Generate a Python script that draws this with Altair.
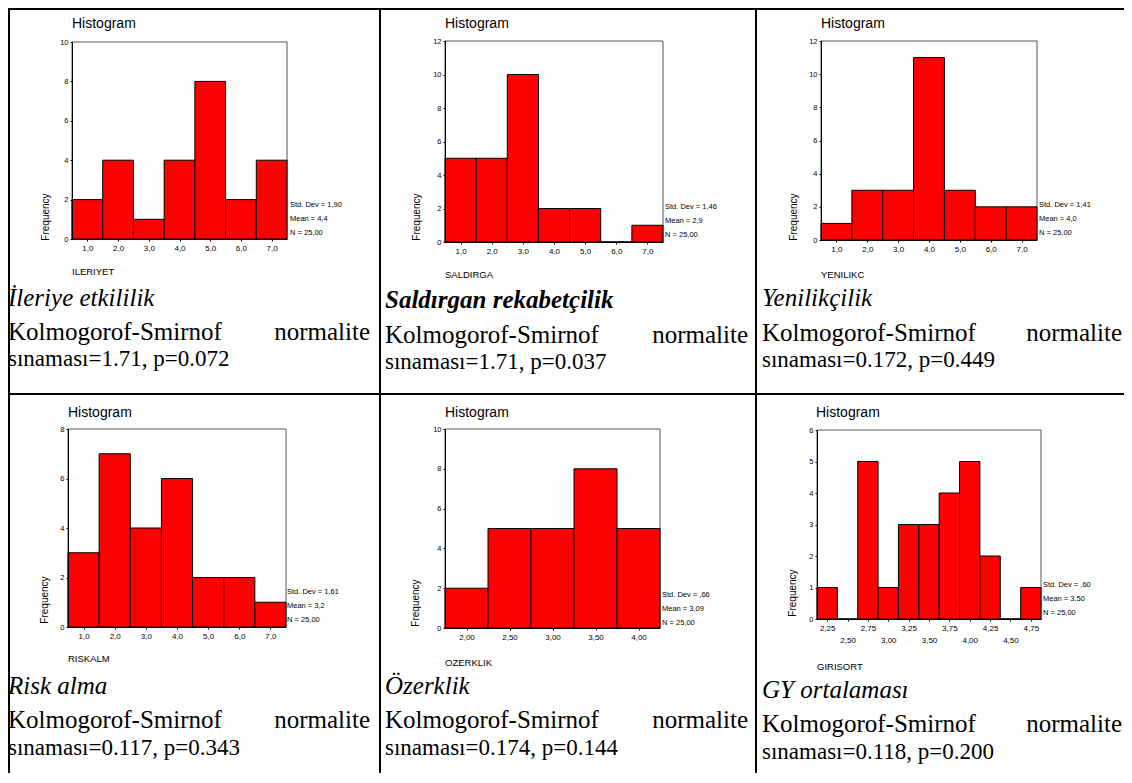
import altair as alt
import pandas as pd

# ---------------- data ----------------
bins_1to7 = [1.0, 2.0, 3.0, 4.0, 5.0, 6.0, 7.0]
freq_ileriyet = [2, 4, 1, 4, 8, 2, 4]
freq_saldirga = [5, 5, 10, 2, 2, 0, 1]
freq_yenilikc = [1, 3, 3, 11, 3, 2, 2]
freq_riskalm = [3, 7, 4, 6, 2, 2, 1]
bins_ozerklik = [2.00, 2.50, 3.00, 3.50, 4.00]
freq_ozerklik = [2, 5, 5, 8, 5]
bins_girisort = [2.25, 2.50, 2.75, 3.00, 3.25, 3.50, 3.75, 4.00, 4.25, 4.50, 4.75]
freq_girisort = [1, 0, 5, 1, 3, 3, 4, 5, 2, 0, 1]

variable_names = ["ILERIYET", "SALDIRGA", "YENILIKC", "RISKALM", "OZERKLIK", "GIRISORT"]
std_devs = ["1,90", "1,46", "1,41", "1,61", ",66", ",60"]
means = ["4,4", "2,9", "4,0", "3,2", "3,09", "3,50"]
n_values = ["25,00", "25,00", "25,00", "25,00", "25,00", "25,00"]
y_max = [10, 12, 12, 8, 10, 6]
y_step = [2, 2, 2, 2, 2, 1]

captions = ["İleriye etkililik", "Saldırgan rekabetçilik", "Yenilikçilik",
            "Risk alma", "Özerklik", "GY ortalaması"]
ks_stats = ["1.71", "1.71", "0.172", "0.117", "0.174", "0.118"]
ks_p = ["0.072", "0.037", "0.449", "0.343", "0.144", "0.200"]

# ---------------- layout (page pixels) ----------------
W, H = 1116, 765
OFF = 8
SANS = "Liberation Sans"
SERIF = "Liberation Serif"

panels = [
    dict(c=bins_1to7, f=freq_ileriyet, bw=1.0, fmt=".1f", plot=(72, 287, 42, 239),
         hist=(72, 24), fr=(46, 217), var=(72, 272), st=(290, 205)),
    dict(c=bins_1to7, f=freq_saldirga, bw=1.0, fmt=".1f", plot=(445, 663, 41, 242),
         hist=(445, 24), fr=(417, 217), var=(445, 275), st=(665, 207)),
    dict(c=bins_1to7, f=freq_yenilikc, bw=1.0, fmt=".1f", plot=(821, 1037, 41, 240),
         hist=(821, 24), fr=(794, 217), var=(821, 275), st=(1039, 205)),
    dict(c=bins_1to7, f=freq_riskalm, bw=1.0, fmt=".1f", plot=(68, 286, 429, 627),
         hist=(68, 413), fr=(45, 600), var=(68, 659), st=(287, 592)),
    dict(c=bins_ozerklik, f=freq_ozerklik, bw=0.5, fmt=".2f", plot=(445, 660, 429, 628),
         hist=(445, 413), fr=(416, 603), var=(445, 663), st=(662, 595)),
    dict(c=bins_girisort, f=freq_girisort, bw=0.25, fmt=".2f", plot=(817, 1041, 430, 619),
         hist=(816, 413), fr=(793, 593), var=(817, 667), st=(1043, 585)),
]

cap_x = [8, 385, 762]
cap_right = [370, 748, 1122]
cap_y = [(298, 332, 359), (300, 335, 362), (298, 333, 360),
         (686, 720, 748), (686, 720, 748), (690, 724, 752)]

layers = []

# table lines
rule_rows = [
    dict(x=1, x2=W, y=1, y2=1),
    dict(x=1, x2=1, y=0, y2=H),
    dict(x=380 - OFF, x2=380 - OFF, y=0, y2=H),
    dict(x=756 - OFF, x2=756 - OFF, y=0, y2=H),
    dict(x=0, x2=W, y=394 - OFF, y2=394 - OFF),
]
layers.append(
    alt.Chart(pd.DataFrame(rule_rows)).mark_rule(color="black", strokeWidth=2).encode(
        x=alt.X("x:Q", scale=None, axis=None), x2="x2:Q",
        y=alt.Y("y:Q", scale=None, axis=None), y2="y2:Q")
)

def comma_expr(fmt):
    return "replace(format(datum.value, '%s'), '.', ',')" % fmt

small_rows, hist_rows, freq_rows, var_rows = [], [], [], []

for i, p in enumerate(panels):
    l, r, t, b = p["plot"]
    c, f, bw = p["c"], p["f"], p["bw"]
    d0, d1 = c[0] - bw / 2, c[-1] + bw / 2
    xs = alt.Scale(domain=[d0, d1], range=[l - OFF, r - OFF], nice=False, zero=False)
    ys = alt.Scale(domain=[0, y_max[i]], range=[b - OFF, t - OFF], nice=False, zero=True)

    if i == 5:
        xvals_main = c[0::2]
        xvals_second = c[1::2]
    else:
        xvals_main = c
        xvals_second = None

    xaxis_common = dict(orient="bottom", offset=(b - OFF) - H, tickSize=2,
                        labelExpr=comma_expr(p["fmt"]), labelFontSize=8, labelFont=SANS,
                        labelColor="black", domainColor="black", tickColor="black",
                        grid=False, title=None, labelOverlap=False, labelFlush=False,
                        zindex=1)

    # plot frame
    box_df = pd.DataFrame({"lo": [d0], "hi": [d1], "z": [0], "top": [y_max[i]]})
    if xvals_second is not None:
        box_x_axis = alt.Axis(values=xvals_second, labelPadding=15, **xaxis_common)
    else:
        box_x_axis = None
    layers.append(
        alt.Chart(box_df).mark_rect(fill="white", stroke="#555555", strokeWidth=1).encode(
            x=alt.X("lo:Q", scale=xs, axis=box_x_axis), x2="hi:Q",
            y=alt.Y("z:Q", scale=ys, axis=None), y2="top:Q")
    )

    # bars
    bar_df = pd.DataFrame({"lo": [v - bw / 2 for v in c], "hi": [v + bw / 2 for v in c],
                           "n": f, "z": [0] * len(f)})
    layers.append(
        alt.Chart(bar_df).mark_rect(fill="#ff0000", stroke="black", strokeWidth=1).encode(
            x=alt.X("lo:Q", scale=xs,
                    axis=alt.Axis(values=xvals_main, labelPadding=3, **xaxis_common)),
            x2="hi:Q",
            y=alt.Y("n:Q", scale=ys,
                    axis=alt.Axis(orient="left", offset=-(l - OFF), tickSize=2,
                                  values=list(range(0, y_max[i] + 1, y_step[i])),
                                  format="d", labelFontSize=7.5, labelFont=SANS,
                                  labelColor="black", domainColor="black",
                                  tickColor="black", grid=False, title=None,
                                  labelPadding=2, zindex=1)),
            y2="z:Q")
    )

    hx, hy = p["hist"]
    hist_rows.append(dict(t="Histogram", px=hx - OFF, py=hy - OFF))
    fx, fy = p["fr"]
    freq_rows.append(dict(t="Frequency", px=fx - OFF, py=fy - OFF))
    vx, vy = p["var"]
    var_rows.append(dict(t=variable_names[i], px=vx - OFF, py=vy - OFF))
    sx, sy = p["st"]
    for k, s in enumerate(["Std. Dev = " + std_devs[i], "Mean = " + means[i],
                           "N = " + n_values[i]]):
        small_rows.append(dict(t=s, px=sx - OFF, py=sy - OFF + 14 * k))


def text_layer(rows, **mark):
    return alt.Chart(pd.DataFrame(rows)).mark_text(**mark).encode(
        x=alt.X("px:Q", scale=None, axis=None),
        y=alt.Y("py:Q", scale=None, axis=None),
        text="t:N")

layers.append(text_layer(hist_rows, font=SANS, fontSize=14, align="left",
                         baseline="middle", color="black"))
layers.append(text_layer(freq_rows, font=SANS, fontSize=10, align="center",
                         baseline="middle", angle=270, color="black"))
layers.append(text_layer(var_rows, font=SANS, fontSize=9.5, align="left",
                         baseline="middle", color="black"))
layers.append(text_layer(small_rows, font=SANS, fontSize=7.5, align="left",
                         baseline="middle", color="black"))

# captions
title_rows, title_bold_rows, left_rows, right_rows, last_rows = [], [], [], [], []
for i in range(6):
    col = i % 3
    x0 = cap_x[col] - OFF
    xr = cap_right[col] - OFF
    y1, y2, y3 = cap_y[i]
    row = dict(t=captions[i], px=x0, py=y1 - OFF)
    (title_bold_rows if i == 1 else title_rows).append(row)
    left_rows.append(dict(t="Kolmogorof-Smirnof", px=x0, py=y2 - OFF))
    right_rows.append(dict(t="normalite", px=xr, py=y2 - OFF))
    last_rows.append(dict(t="sınaması=%s, p=%s" % (ks_stats[i], ks_p[i]), px=x0, py=y3 - OFF))

CAP = 25
layers.append(text_layer(title_rows, font=SERIF, fontSize=CAP, fontStyle="italic",
                         align="left", baseline="middle", color="black"))
layers.append(text_layer(title_bold_rows, font=SERIF, fontSize=CAP, fontStyle="italic",
                         fontWeight="bold", align="left", baseline="middle", color="black"))
layers.append(text_layer(left_rows, font=SERIF, fontSize=CAP, align="left",
                         baseline="middle", color="black"))
layers.append(text_layer(right_rows, font=SERIF, fontSize=CAP, align="right",
                         baseline="middle", color="black"))
layers.append(text_layer(last_rows, font=SERIF, fontSize=23, align="left",
                         baseline="middle", color="black"))

chart = alt.layer(*layers).resolve_scale(
    x="independent", y="independent"
).resolve_axis(
    x="independent", y="independent"
).properties(
    width=W, height=H, padding=0,
    autosize=alt.AutoSizeParams(type="none"),
).configure_view(stroke=None)

chart.save("out.html", embed_options={"renderer": "svg", "actions": False})
